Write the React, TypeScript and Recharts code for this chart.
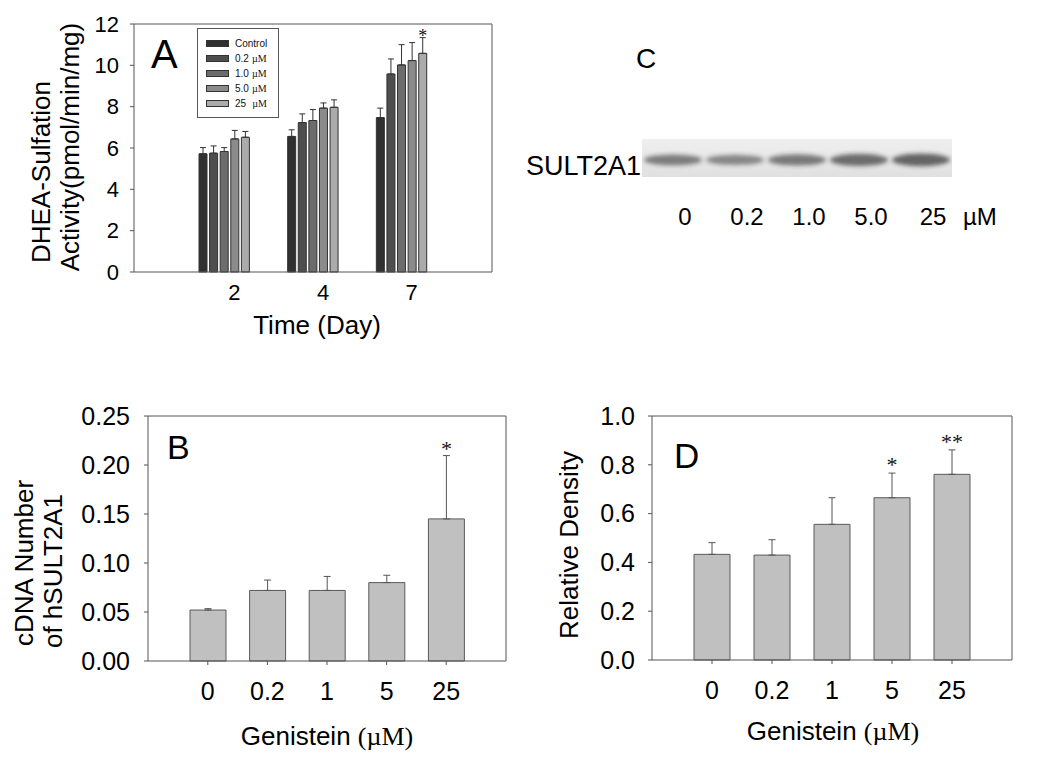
import React from 'react';
import { BarChart, Bar, XAxis, YAxis, ErrorBar, CartesianGrid, Legend, LabelList, Label } from 'recharts';

const SANS = '"Liberation Sans", Arial, sans-serif';
const SERIF = '"Liberation Serif", "Times New Roman", serif';

// Panel A: DHEA sulfation by day and genistein dose
const days = ['2', '4', '7'];
const doseNamesA = ['Control', '0.2 µM', '1.0 µM', '5.0 µM', '25  µM'];
const doseColorsA = ['#303030', '#4e4e4e', '#6c6c6c', '#8b8b8b', '#ababab'];
const controlMean = [5.72, 6.56, 7.47];
const controlErr = [0.3, 0.32, 0.46];
const g02Mean = [5.75, 7.23, 9.58];
const g02Err = [0.35, 0.42, 0.73];
const g1Mean = [5.83, 7.33, 10.02];
const g1Err = [0.19, 0.53, 0.98];
const g5Mean = [6.44, 7.93, 10.23];
const g5Err = [0.41, 0.25, 0.87];
const g25Mean = [6.52, 7.97, 10.58];
const g25Err = [0.28, 0.36, 0.76];
const g25Sig = ['', '', '*'];
const ticksA = [0, 2, 4, 6, 8, 10, 12];

// Panel B: cDNA number
const doses = ['0', '0.2', '1', '5', '25'];
const cdnaMean = [0.052, 0.072, 0.072, 0.08, 0.145];
const cdnaErr = [0.0014, 0.0106, 0.0143, 0.0075, 0.0646];
const cdnaSig = ['', '', '', '', '*'];
const ticksB = [0, 0.05, 0.1, 0.15, 0.2, 0.25];

// Panel C: western blot lanes
const lanes = ['0', '0.2', '1.0', '5.0', '25'];
const bandIntensity = [0.6, 0.52, 0.66, 0.76, 0.82];

// Panel D: relative density
const densityMean = [0.433, 0.43, 0.556, 0.665, 0.761];
const densityErr = [0.048, 0.063, 0.109, 0.101, 0.1];
const densitySig = ['', '', '', '*', '**'];
const ticksD = [0, 0.2, 0.4, 0.6, 0.8, 1.0];

const rowsA = days.map((d, i) => ({
  day: d,
  c: controlMean[i], cE: [0, controlErr[i]],
  g02: g02Mean[i], g02E: [0, g02Err[i]],
  g1: g1Mean[i], g1E: [0, g1Err[i]],
  g5: g5Mean[i], g5E: [0, g5Err[i]],
  g25: g25Mean[i], g25E: [0, g25Err[i]],
}));
const rowsB = doses.map((d, i) => ({ dose: d, v: cdnaMean[i], e: [0, cdnaErr[i]] }));
const rowsD = doses.map((d, i) => ({ dose: d, v: densityMean[i], e: [0, densityErr[i]] }));
const rowsC = lanes.map((l, i) => ({ lane: l, band: bandIntensity[i] }));

const AXIS = '#555';
const BLOT_H = 38;

const topRightBox = {
  horizontalCoordinatesGenerator: ({ offset }: any) => [offset.top],
  verticalCoordinatesGenerator: ({ offset }: any) => [offset.left + offset.width],
};

const starLabel = (sig: string[], err: number[], size: number, lift: number) => (props: any) => {
  const vb = props.viewBox || props;
  const { x, y, width, height } = vb;
  const i = props.index;
  const s = sig[i];
  if (!s) return null;
  const val = Number(props.value);
  const pxPer = Math.abs(height) / val;
  const top = Math.min(y, y + height) - err[i] * pxPer;
  return (
    <text x={x + width / 2} y={top + lift} textAnchor="middle" fontFamily={SERIF} fontSize={size} fill="#111">
      {s}
    </text>
  );
};

const renderLegendA = (props: any) => {
  // keep the series order, not the alphabetical one
  const items = [...(props.payload || [])].sort(
    (a: any, b: any) => doseNamesA.indexOf(a.value) - doseNamesA.indexOf(b.value)
  );
  return (
    <div style={{ width: 82, height: 90, border: '1px solid #555', boxSizing: 'border-box', background: '#fff', paddingTop: 7 }}>
      {items.map((it: any) => {
        const parts = String(it.value).split(' ');
        const num = parts[0];
        const unit = parts.length > 1 ? parts[parts.length - 1] : '';
        return (
          <div key={it.value} style={{ display: 'flex', alignItems: 'center', height: 15, fontFamily: SANS, fontSize: 10, color: '#111', lineHeight: '10px' }}>
            <span style={{ display: 'inline-block', width: 23, height: 7, marginLeft: 8, marginRight: 6, background: it.color, border: '1px solid #333', boxSizing: 'border-box' }} />
            <span>{num}</span>
            {unit && <span style={{ fontFamily: SERIF, marginLeft: num === '25' ? 6 : 3 }}>{unit}</span>}
          </div>
        );
      })}
    </div>
  );
};

const tickStyle = (size: number) => ({ fill: '#000', fontSize: size, fontFamily: SANS });

function PanelA() {
  const bars = [
    { key: 'c', err: 'cE' },
    { key: 'g02', err: 'g02E' },
    { key: 'g1', err: 'g1E' },
    { key: 'g5', err: 'g5E' },
    { key: 'g25', err: 'g25E' },
  ];
  return (
    <BarChart width={500} height={340} data={rowsA} margin={{ top: 24, right: 8, bottom: 28, left: 0 }} barSize={8} barGap={2.6}>
      <CartesianGrid stroke={AXIS} {...topRightBox} />
      <XAxis dataKey="day" height={40} padding={{ left: 46, right: 46 }} tickLine={false} tickSize={0} tickMargin={12}
        tick={{ ...tickStyle(22), dx: 10 }} axisLine={{ stroke: AXIS }}>
        <Label content={() => (
          <text x={317} y={334} textAnchor="middle" fontFamily={SANS} fontSize={26} fill="#000">Time (Day)</text>
        )} />
      </XAxis>
      <YAxis domain={[0, 12]} ticks={ticksA} interval={0} width={134} tickSize={4} tickMargin={11}
        tick={tickStyle(22)} axisLine={{ stroke: AXIS }} tickLine={{ stroke: AXIS }}>
        <Label content={() => (
          <g fontFamily={SANS} fontSize={26} fill="#000">
            <text transform="translate(50,172) rotate(-90)" textAnchor="middle">DHEA-Sulfation</text>
            <text transform="translate(79,147) rotate(-90)" textAnchor="middle">Activity(pmol/min/mg)</text>
          </g>
        )} />
      </YAxis>
      <Legend layout="horizontal" verticalAlign="middle" align="center" content={renderLegendA}
        wrapperStyle={{ left: 197, top: 28, width: 82, height: 90 }} />
      {bars.map((b, i) => (
        <Bar key={b.key} dataKey={b.key} name={doseNamesA[i]} fill={doseColorsA[i]} stroke="#333" strokeWidth={1} isAnimationActive={false}>
          <ErrorBar dataKey={b.err} direction="y" width={3} stroke="#333" strokeWidth={1} />
          {b.key === 'g25' && <LabelList dataKey="g25" content={starLabel(g25Sig, g25Err, 18, 4)} />}
        </Bar>
      ))}
    </BarChart>
  );
}

function PanelB() {
  return (
    <BarChart width={520} height={381} data={rowsB} margin={{ top: 36, right: 14, bottom: 60, left: 0 }} barSize={36}>
      <CartesianGrid stroke={AXIS} {...topRightBox} />
      <XAxis dataKey="dose" height={40} padding={{ left: 30, right: 30 }} tickSize={4} tickMargin={17}
        tick={tickStyle(25)} axisLine={{ stroke: AXIS }} tickLine={{ stroke: AXIS }}>
        <Label content={() => (
          <text x={327} y={365} textAnchor="middle" fontSize={26} fill="#000">
            <tspan fontFamily={SANS}>Genistein </tspan><tspan fontFamily={SERIF}>(µM)</tspan>
          </text>
        )} />
      </XAxis>
      <YAxis domain={[0, 0.25]} ticks={ticksB} interval={0} width={148} tickSize={4} tickMargin={14}
        tickFormatter={(v: number) => v.toFixed(2)} tick={tickStyle(25)} axisLine={{ stroke: AXIS }} tickLine={{ stroke: AXIS }}>
        <Label content={() => (
          <g fontFamily={SANS} fontSize={26} fill="#000">
            <text transform="translate(33,183) rotate(-90)" textAnchor="middle">cDNA Number</text>
            <text transform="translate(62,191) rotate(-90)" textAnchor="middle">of hSULT2A1</text>
          </g>
        )} />
      </YAxis>
      <Bar dataKey="v" fill="#c0c0c0" stroke="#5a5a5a" strokeWidth={1} isAnimationActive={false}>
        <ErrorBar dataKey="e" direction="y" width={3.5} stroke="#555" strokeWidth={1} />
        <LabelList dataKey="v" content={starLabel(cdnaSig, cdnaErr, 22, 0)} />
      </Bar>
    </BarChart>
  );
}

function PanelD() {
  return (
    <BarChart width={520} height={381} data={rowsD} margin={{ top: 36, right: 38, bottom: 61, left: 0 }} barSize={36}>
      <CartesianGrid stroke={AXIS} {...topRightBox} />
      <XAxis dataKey="dose" height={40} padding={{ left: 30, right: 30 }} tickSize={4} tickMargin={17}
        tick={tickStyle(25)} axisLine={{ stroke: AXIS }} tickLine={{ stroke: AXIS }}>
        <Label content={() => (
          <text x={303} y={360} textAnchor="middle" fontSize={26} fill="#000">
            <tspan fontFamily={SANS}>Genistein </tspan><tspan fontFamily={SERIF}>(µM)</tspan>
          </text>
        )} />
      </XAxis>
      <YAxis domain={[0, 1]} ticks={ticksD} interval={0} width={122} tickSize={4} tickMargin={13}
        tickFormatter={(v: number) => v.toFixed(1)} tick={tickStyle(25)} axisLine={{ stroke: AXIS }} tickLine={{ stroke: AXIS }}>
        <Label content={() => (
          <text transform="translate(48,165) rotate(-90)" textAnchor="middle" fontFamily={SANS} fontSize={26} fill="#000">Relative Density</text>
        )} />
      </YAxis>
      <Bar dataKey="v" fill="#c0c0c0" stroke="#5a5a5a" strokeWidth={1} isAnimationActive={false}>
        <ErrorBar dataKey="e" direction="y" width={3.5} stroke="#555" strokeWidth={1} />
        <LabelList dataKey="v" content={starLabel(densitySig, densityErr, 22, -1)} />
      </Bar>
    </BarChart>
  );
}

const bandShape = (p: any) => {
  const v = p.payload.band;
  return (
    <ellipse cx={p.x + p.width / 2} cy={BLOT_H * 0.55} rx={p.width * 0.47} ry={3 + 4 * v}
      fill="#2a2a2a" fillOpacity={0.2 + 0.6 * v} filter="url(#blotBlur)" />
  );
};

function PanelC() {
  return (
    <BarChart width={310} height={100} data={rowsC} margin={{ top: 0, right: 0, bottom: 0, left: 0 }} barCategoryGap={0}>
      <defs>
        <linearGradient id="blotBg" x1="0" y1="0" x2="0" y2="1">
          <stop offset="0%" stopColor="#efefef" />
          <stop offset="100%" stopColor="#e0e0e0" />
        </linearGradient>
        <filter id="blotBlur" x="-20%" y="-100%" width="140%" height="300%">
          <feGaussianBlur stdDeviation="2" />
        </filter>
      </defs>
      <CartesianGrid horizontal={false} vertical={false} fill="url(#blotBg)" />
      <XAxis dataKey="lane" height={100 - BLOT_H} axisLine={false} tickLine={false} tickSize={0} tickMargin={31}
        tick={{ ...tickStyle(24), dx: 12 }} />
      <YAxis hide domain={[0, 1]} />
      <Bar dataKey="band" shape={bandShape} isAnimationActive={false} />
    </BarChart>
  );
}

export default function App() {
  return (
    <div style={{ position: 'absolute', left: 0, top: 0, width: 1050, height: 761, background: '#fff', fontFamily: SANS }}>
      <div style={{ position: 'absolute', left: 0, top: 0 }}><PanelA /></div>
      <div style={{ position: 'absolute', left: 642, top: 139 }}><PanelC /></div>
      <div style={{ position: 'absolute', left: 0, top: 380 }}><PanelB /></div>
      <div style={{ position: 'absolute', left: 530, top: 380 }}><PanelD /></div>
      <svg width={1050} height={761} style={{ position: 'absolute', left: 0, top: 0, pointerEvents: 'none' }}>
        <g fontFamily={SANS} fill="#000">
          <text x={151} y={68} fontSize={40}>A</text>
          <text x={167} y={459} fontSize={34}>B</text>
          <text x={636} y={68} fontSize={28}>C</text>
          <text x={674} y={468} fontSize={35}>D</text>
          <text x={641} y={175} fontSize={27} textAnchor="end">SULT2A1</text>
          <text x={963} y={225} fontSize={24}>µM</text>
        </g>
      </svg>
    </div>
  );
}
